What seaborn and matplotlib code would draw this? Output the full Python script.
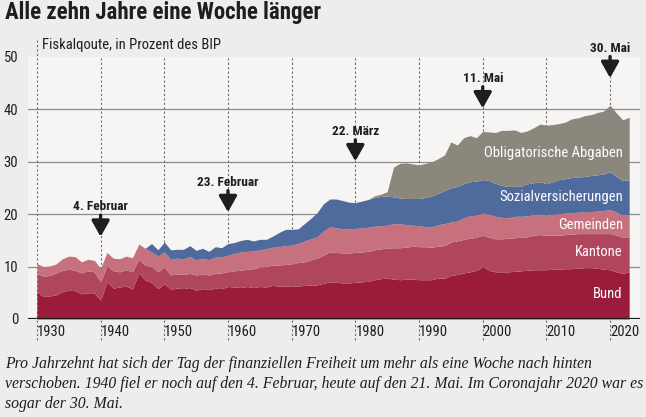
import matplotlib
matplotlib.use("Agg")
import matplotlib.pyplot as plt
from matplotlib import font_manager
import seaborn as sns

# Fiskalquote nach Staatsebene, in Prozent des BIP
years = list(range(1930, 2024))

bund = [5.2, 4.3, 4.4, 4.6, 5.2, 5.5, 5.4, 4.8, 5.0, 5.0,
        3.6, 7.1, 5.9, 6.1, 6.3, 5.7, 8.8, 7.4, 7.0, 5.8,
        6.7, 5.7, 5.9, 5.8, 6.0, 5.5, 5.8, 5.6, 5.9, 5.8,
        6.2, 6.1, 6.0, 6.2, 6.0, 6.2, 6.1, 6.4, 6.3, 6.3,
        6.3, 6.3, 6.4, 6.5, 6.5, 6.8, 7.1, 7.0, 6.9, 6.9,
        7.0, 7.1, 7.2, 7.5, 7.7, 7.8, 7.6, 7.5, 7.6, 7.6,
        7.5, 7.5, 7.5, 7.8, 7.8, 8.3, 8.5, 8.8, 9.0, 9.3,
        10.0, 9.3, 9.0, 9.0, 9.0, 9.1, 9.2, 9.3, 9.4, 9.4,
        9.4, 9.5, 9.5, 9.6, 9.6, 9.7, 9.8, 9.8, 9.7, 9.5,
        9.4, 9.0, 8.7, 9.0]

kantone = [3.5, 3.9, 3.9, 4.2, 4.1, 4.0, 3.9, 4.0, 4.2, 4.0,
           3.5, 3.0, 3.3, 2.9, 3.1, 3.3, 2.6, 2.9, 3.0, 3.2,
           3.2, 2.7, 2.7, 2.7, 2.7, 2.9, 2.8, 2.8, 2.8, 3.0,
           2.8, 3.1, 3.3, 3.3, 3.6, 3.7, 3.9, 3.9, 4.0, 4.1,
           4.2, 4.5, 4.5, 4.8, 5.1, 5.4, 5.7, 5.7, 5.7, 5.7,
           5.7, 5.7, 5.7, 5.7, 5.7, 5.7, 6.0, 6.1, 6.1, 6.3,
           6.3, 6.3, 6.2, 6.1, 6.2, 6.4, 6.4, 6.4, 6.4, 6.3,
           6.0, 6.3, 6.3, 6.3, 6.4, 6.4, 6.4, 6.4, 6.6, 6.7,
           6.6, 6.5, 6.5, 6.5, 6.6, 6.6, 6.5, 6.5, 6.6, 6.8,
           6.9, 7.0, 6.9, 6.7]

gemeinden = [1.9, 1.8, 1.8, 1.7, 2.2, 2.5, 2.6, 2.1, 2.2, 2.2,
             2.6, 2.6, 2.4, 2.5, 2.6, 2.7, 2.9, 3.2, 2.8, 3.0,
             2.9, 3.0, 3.0, 3.0, 3.2, 2.9, 3.0, 2.9, 3.1, 3.1,
             3.2, 3.3, 3.5, 3.4, 3.4, 3.3, 3.4, 3.4, 3.5, 3.6,
             3.6, 3.6, 4.0, 4.0, 4.1, 4.6, 4.8, 4.7, 4.6, 4.6,
             4.6, 4.6, 4.6, 4.5, 4.4, 4.4, 4.6, 4.6, 4.3, 4.0,
             4.0, 3.8, 3.9, 4.1, 4.2, 3.8, 3.8, 4.1, 4.3, 4.2,
             4.2, 4.4, 4.3, 4.1, 3.9, 4.1, 4.0, 4.0, 3.9, 3.8,
             3.8, 4.0, 4.1, 4.1, 4.1, 4.1, 4.2, 4.2, 4.3, 4.4,
             4.6, 4.4, 4.2, 4.3]

sozialvers = [0] * 17 + [
              0.0, 1.6, 1.2,
              1.9, 1.8, 1.7, 1.8, 2.1, 1.8, 1.9, 1.6, 2.0, 1.7,
              2.2, 2.1, 2.2, 2.3, 1.9, 2.0, 1.8, 2.1, 2.7, 3.1,
              3.0, 2.8, 3.3, 3.9, 4.6, 5.2, 5.3, 5.5, 5.4, 5.1,
              4.9, 5.1, 5.3, 5.5, 5.6, 5.6, 5.1, 4.9, 5.0, 5.1,
              5.2, 5.6, 5.9, 6.0, 6.3, 6.5, 6.6, 6.5, 6.5, 6.5,
              6.4, 6.4, 6.3, 6.1, 6.0, 5.7, 5.8, 6.1, 6.1, 6.3,
              6.0, 6.2, 6.5, 6.6, 6.7, 6.7, 6.7, 6.9, 6.9, 7.0,
              7.2, 6.8, 6.6, 6.6]

obligatorisch = [0] * 53 + [
                 0.3, 0.4, 0.8, 5.7, 6.6, 6.8, 6.6,
                 6.4, 6.5, 6.5, 6.6, 6.8, 8.8, 7.9, 8.8, 8.8, 8.3,
                 9.2, 9.3, 9.7, 10.5, 10.7, 10.8, 10.2, 10.1, 10.5, 11.0,
                 11.2, 10.9, 10.7, 10.8, 11.2, 11.3, 11.6, 11.6, 11.9, 12.0,
                 12.7, 12.1, 11.6, 11.9]

layer_names = ["Bund", "Kantone", "Gemeinden", "Sozialversicherungen",
               "Obligatorische Abgaben"]
layer_colors = ["#9b1b3a", "#b0465e", "#c7717f", "#4f6b9d", "#8c877c"]
label_y = [4.8, 12.8, 17.9, 23.3, 31.7]

arrow_years = [1940, 1960, 1980, 2000, 2020]
arrow_texts = ["4. Februar", "23. Februar", "22. März", "11. Mai", "30. Mai"]
arrow_tops = [19.8, 24.5, 34.2, 44.3, 50.1]

decades = list(range(1930, 2030, 10))

title = "Alle zehn Jahre eine Woche länger"
caption = ["Pro Jahrzehnt hat sich der Tag der finanziellen Freiheit um mehr als eine Woche nach hinten",
           "verschoben. 1940 fiel er noch auf den 4. Februar, heute auf den 21. Mai. Im Coronajahr 2020 war es",
           "sogar der 30. Mai."]

sns.set_theme(style="white")

# look for a narrow sans font, else fall back to Roboto
narrow_family, narrow_stretch, scale = "Roboto", "normal", 0.88
wanted = ["Liberation Sans Narrow", "Roboto Condensed", "Noto Sans Condensed",
          "Open Sans Condensed", "DejaVu Sans Condensed"]
names = {f.name: f.stretch for f in font_manager.fontManager.ttflist}
found = [n for n in wanted if n in names]
if found:
    narrow_family, narrow_stretch, scale = found[0], names[found[0]], 1.0
else:
    for f in font_manager.fontManager.ttflist:
        if str(f.stretch) in ("condensed", "semi-condensed", "extra-condensed", "75", "87.5") \
                and "Mono" not in f.name and "Serif" not in f.name:
            narrow_family, narrow_stretch, scale = f.name, f.stretch, 1.0
            break
plt.rcParams["font.family"] = [narrow_family, "DejaVu Sans"]
plt.rcParams["font.stretch"] = narrow_stretch

fs = 10.5 * scale

fig_bg = "#eeedeb"
ax_bg = "#f6f5f3"
ink = "#1e1e1e"

fig = plt.figure(figsize=(6.46, 4.17), dpi=100, facecolor=fig_bg)
ax = fig.add_axes([28 / 646, 1 - 319 / 417, 612 / 646, 262 / 417])
ax.set_facecolor(ax_bg)

ax.stackplot(years, bund, kantone, gemeinden, sozialvers, obligatorisch,
             colors=layer_colors, linewidth=0, zorder=2)

for v in [10, 20, 30, 40]:
    ax.axhline(v, color="#8d8d8d", lw=0.9, zorder=0)
ax.axhline(0, color=ink, lw=1.6, zorder=5)

for d in decades:
    top = 53.6 if d == 1930 else 50
    ax.plot([d, d], [-4.0, top], color="#6f6f6f", lw=0.8, ls=(0, (2, 2)),
            clip_on=False, zorder=1)

ax.set_xlim(1928.6, 2024.7)
ax.set_ylim(0, 50)
ax.set_yticks(range(0, 51, 10))
ax.set_yticklabels([str(v) for v in range(0, 51, 10)], fontsize=fs, color=ink)
ax.set_xticks(decades)
ax.set_xticklabels([str(d) for d in decades], fontsize=fs, color=ink, ha="left")
offset = matplotlib.transforms.ScaledTranslation(4 / 100, 0, fig.dpi_scale_trans)
for lab in ax.get_xticklabels():
    lab.set_transform(lab.get_transform() + offset)
ax.tick_params(axis="both", length=0)
ax.tick_params(axis="y", pad=7)
ax.tick_params(axis="x", pad=4)
sns.despine(ax=ax, left=True, bottom=True)

# Beschriftung der Flaechen
for name, yv in zip(layer_names, label_y):
    ax.text(2022.0, yv, name, ha="right", va="center", color="white",
            fontsize=fs, zorder=6)

# Tag der finanziellen Freiheit
for yr, txt, top in zip(arrow_years, arrow_texts, arrow_tops):
    ax.annotate("", xy=(yr, top - 4.1), xytext=(yr, top),
                arrowprops=dict(arrowstyle="-|>,head_length=0.8,head_width=0.45",
                                color=ink, lw=2.4, shrinkA=0, shrinkB=0),
                annotation_clip=False, zorder=7)
    ax.text(yr, top + 1.6, txt, ha="center", va="center", fontsize=fs * 0.92,
            fontweight="bold", color=ink, clip_on=False, zorder=7)

fig.text(42 / 646, 1 - 45 / 417, "Fiskalqoute, in Prozent des BIP",
         fontsize=fs, color=ink, va="center", ha="left")

fig.text(5 / 646, 1 - 13 / 417, title, fontsize=16.5 * scale if found else 14,
         fontweight="bold", color=ink, va="center", ha="left")

for i, line in enumerate(caption):
    fig.text(5 / 646, 1 - (364 + 20 * i) / 417, line, fontsize=11.3,
             style="italic", family=["Liberation Serif", "DejaVu Serif"],
             stretch="normal", color=ink, va="center", ha="left")

fig.savefig("out.png", dpi=100, facecolor=fig_bg)
